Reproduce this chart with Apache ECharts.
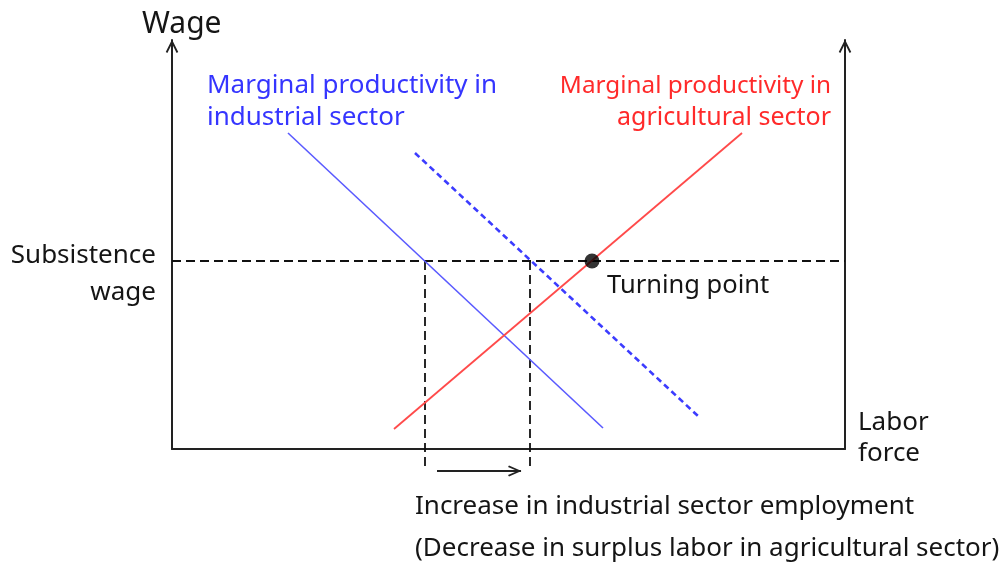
<!DOCTYPE html>
<html>
<head>
<meta charset="utf-8">
<script src="https://cdn.jsdelivr.net/npm/echarts@6/dist/echarts.min.js"></script>
<style>html,body{margin:0;padding:0;background:#fff}#c{width:1007px;height:563px}</style>
</head>
<body>
<div id="c"></div>
<script>
// Diagram values (x: labor force units, y: wage units)
const xRange = [0, 673];
const yRange = [0, 409];
const industrialMP = [[116, 316], [431, 21]];
const industrialMPShifted = [[243, 296], [526, 33]];
const agriculturalMP = [[222, 20], [570, 316]];
const subsistenceWage = 188;
const employmentBefore = 253;
const employmentAfter = 358;
const belowAxis = -22;
const arrowFrom = 265;
const arrowTo = 349;
const turningPoint = [420, 188];

const FONT = '"Noto Sans", "Open Sans", sans-serif';
const chevron = 'path://M0,10 L5,0 L10,10 L8.7,10.8 L5,3.3 L1.3,10.8 Z M5,-10 L5.05,-10 L5,-9.95 Z';

const chart = echarts.init(document.getElementById('c'), null, {renderer: 'canvas'});
const dashedBlack = {color: '#111', width: 1.8, type: [9, 5]};
const S = 26;
function txt(str, pos, color, size) {
  return Object.assign({type: 'text', style: {text: str, font: (size || S) + 'px ' + FONT, fill: color || '#151515'}}, pos);
}
const option = {
  animation: false,
  backgroundColor: '#fff',
  grid: {left: 172, right: 162, top: 40, bottom: 114, containLabel: false},
  xAxis: {
    type: 'value', min: xRange[0], max: xRange[1],
    axisLine: {show: true, onZero: false, lineStyle: {color: '#222', width: 2}},
    axisTick: {show: false}, axisLabel: {show: false}, splitLine: {show: false}
  },
  yAxis: [
    {
      type: 'value', min: yRange[0], max: yRange[1], position: 'left',
      axisLine: {show: true, onZero: false, symbol: ['none', chevron], symbolSize: [15, 26], lineStyle: {color: '#222', width: 2}},
      axisTick: {show: false}, axisLabel: {show: false}, splitLine: {show: false}
    },
    {
      type: 'value', min: yRange[0], max: yRange[1], position: 'right',
      axisLine: {show: true, onZero: false, symbol: ['none', chevron], symbolSize: [15, 26], lineStyle: {color: '#222', width: 2}},
      axisTick: {show: false}, axisLabel: {show: false}, splitLine: {show: false}
    }
  ],
  series: [
    {type: 'line', name: 'subsistence', data: [[xRange[0], subsistenceWage], [xRange[1], subsistenceWage]],
     symbol: 'none', lineStyle: dashedBlack, clip: false, z: 2},
    {type: 'line', name: 'empBefore', data: [[employmentBefore, subsistenceWage], [employmentBefore, belowAxis]],
     symbol: 'none', lineStyle: dashedBlack, clip: false, z: 2},
    {type: 'line', name: 'empAfter', data: [[employmentAfter, subsistenceWage], [employmentAfter, belowAxis]],
     symbol: 'none', lineStyle: dashedBlack, clip: false, z: 2},
    {type: 'line', name: 'industrial', data: industrialMP, symbol: 'none',
     lineStyle: {color: '#5a5aff', width: 1.6}, z: 3},
    {type: 'line', name: 'industrialShift', data: industrialMPShifted, symbol: 'none',
     lineStyle: {color: '#3c3cff', width: 2.6, type: [6, 4]}, z: 3},
    {type: 'line', name: 'agricultural', data: agriculturalMP, symbol: 'none',
     lineStyle: {color: '#ff4a4a', width: 1.8}, z: 3},
    {type: 'line', name: 'arrow', clip: false, showSymbol: true,
     data: [{value: [arrowFrom, belowAxis], symbol: 'none'},
            {value: [arrowTo, belowAxis], symbol: chevron, symbolSize: [11, 26], symbolRotate: -90}],
     itemStyle: {color: '#222'}, lineStyle: {color: '#222', width: 2}, z: 4},
    {type: 'scatter', name: 'turning', data: [turningPoint], symbol: 'circle', symbolSize: 15,
     itemStyle: {color: '#000'}, z: 5}
  ],
  graphic: [
    {type: 'text', left: 142, top: 9, style: {text: 'Wage', font: '30px ' + FONT, fill: '#151515'}},
    txt('Marginal productivity in', {left: 207, top: 73}, '#3535ff'),
    txt('industrial sector', {left: 207, top: 105}, '#3535ff'),
    txt('Marginal productivity in', {right: 1007 - 831, top: 74}, '#ff2a2a', 24.3),
    txt('agricultural sector', {right: 1007 - 831, top: 105}, '#ff2a2a', 25),
    txt('Subsistence', {right: 1007 - 156, top: 243}),
    txt('wage', {right: 1007 - 156, top: 280}),
    txt('Turning point', {left: 607, top: 273}, null, 25.5),
    txt('Labor', {left: 858, top: 410}),
    txt('force', {left: 858, top: 441}),
    txt('Increase in industrial sector employment', {left: 415, top: 494}),
    txt('(Decrease in surplus labor in agricultural sector)', {left: 415, top: 536})
  ]
};
chart.setOption(option);
</script>
</body>
</html>
